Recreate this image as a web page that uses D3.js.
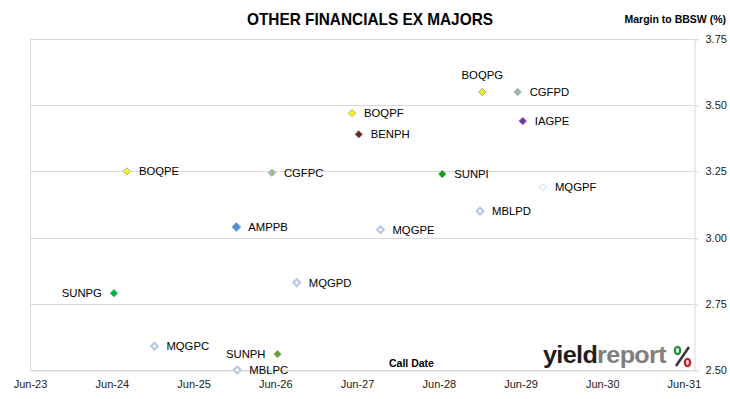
<!DOCTYPE html>
<html>
<head>
<meta charset="utf-8">
<script src="https://cdn.jsdelivr.net/npm/d3@7"></script>
<style>
  html, body { margin: 0; padding: 0; background: #fff; }
  svg { display: block; font-family: "Liberation Sans", Arial, sans-serif; }
</style>
</head>
<body>
<svg id="chart" width="730" height="399"></svg>
<script>
// ---- data ----
const securities = ["BOQPG","CGFPD","BOQPF","BENPH","IAGPE","SUNPI","MQGPF","MBLPD","MQGPE",
                    "BOQPE","CGFPC","AMPPB","SUNPG","MQGPD","MQGPC","SUNPH","MBLPC"];
const callDates  = ["2028-12-12","2029-05-19","2027-05-10","2027-06-09","2029-06-11","2028-06-16",
                    "2029-09-09","2028-12-02","2027-09-14","2024-08-07","2026-05-17","2025-12-09",
                    "2024-06-10","2026-09-05","2024-12-08","2026-06-11","2025-12-13"];
const margins    = [3.55, 3.55, 3.47, 3.39, 3.44, 3.24, 3.19, 3.10, 3.03,
                    3.25, 3.245, 3.04, 2.79, 2.83, 2.59, 2.56, 2.50];
const yTickValues = [2.50, 2.75, 3.00, 3.25, 3.50, 3.75];
const xTickYears  = [2023, 2024, 2025, 2026, 2027, 2028, 2029, 2030, 2031];

// ---- styles (kept separate from data) ----
const hollow = {fill: "#ffffff", stroke: "#b4c7e7", sw: 2, size: 30};
const styles = {
  BOQPG: {fill: "#f2ea1a", stroke: "#a6a6a6", sw: 1, size: 34},
  BOQPF: {fill: "#ffff00", stroke: "#a6a6a6", sw: 1, size: 34},
  BOQPE: {fill: "#ffff00", stroke: "#a6a6a6", sw: 1, size: 34},
  CGFPD: {fill: "#aab98a", stroke: "#8faadc", sw: 1, size: 34},
  CGFPC: {fill: "#aab98a", stroke: "#8faadc", sw: 1, size: 34},
  BENPH: {fill: "#652424", stroke: "#9a6a6a", sw: 1, size: 34},
  IAGPE: {fill: "#7030a0", stroke: "#9568bd", sw: 1, size: 34},
  SUNPI: {fill: "#12a012", stroke: "#3cb03c", sw: 1, size: 34},
  SUNPG: {fill: "#00b050", stroke: "#30bd70", sw: 1, size: 34},
  SUNPH: {fill: "#6a9e3c", stroke: "#86b25e", sw: 1, size: 34},
  AMPPB: {fill: "#558ed5", stroke: "#7aa6dc", sw: 1, size: 50},
  MQGPF: {fill: "#ffffff", stroke: "#c6d4ea", sw: 1, size: 34},
  MQGPE: hollow, MQGPD: hollow, MQGPC: hollow, MBLPD: hollow, MBLPC: hollow
};
const labelSide = {BOQPG: "top", SUNPG: "left", SUNPH: "left"};

// ---- layout ----
const svg = d3.select("#chart");
const plot = {left: 30, right: 694, top: 39, bottom: 370};
const parse = d3.timeParse("%Y-%m-%d");

const x = d3.scaleTime()
  .domain([new Date(2023, 5, 1), new Date(2031, 6, 16)])
  .range([plot.left, plot.right]);
const y = d3.scaleLinear()
  .domain([2.5, 3.75])
  .range([plot.bottom, plot.top]);

// gridlines
svg.append("g").selectAll("line").data(yTickValues).join("line")
  .attr("x1", plot.left).attr("x2", plot.right)
  .attr("y1", d => Math.round(y(d)) + 0.5).attr("y2", d => Math.round(y(d)) + 0.5)
  .attr("stroke", "#d9d9d9").attr("stroke-width", 1);

// left frame line
svg.append("line")
  .attr("x1", plot.left + 0.5).attr("x2", plot.left + 0.5)
  .attr("y1", plot.top).attr("y2", plot.bottom)
  .attr("stroke", "#d9d9d9");

// right y axis
const yAxis = svg.append("g")
  .attr("transform", `translate(${plot.right + 0.5},0)`)
  .call(d3.axisRight(y).tickValues(yTickValues).tickFormat(d3.format(".2f"))
        .tickSize(4).tickPadding(7));
yAxis.select(".domain").attr("stroke", "#d9d9d9");
yAxis.selectAll(".tick line").attr("stroke", "#d9d9d9")
  .attr("transform", d => `translate(0,${Math.round(y(d)) + 0.5 - y(d)})`);
yAxis.selectAll("text").attr("font-size", 11).attr("fill", "#222")
  .attr("font-family", "Liberation Sans, Arial, sans-serif");

// bottom x axis
const xAxis = svg.append("g")
  .attr("transform", `translate(0,${plot.bottom + 0.5})`)
  .call(d3.axisBottom(x).tickValues(xTickYears.map(yr => new Date(yr, 5, 1)))
        .tickFormat(d3.timeFormat("%b-%y")).tickSize(0).tickPadding(10));
xAxis.select(".domain").attr("stroke", "#d9d9d9");
xAxis.selectAll("text").attr("font-size", 11).attr("fill", "#222")
  .attr("font-family", "Liberation Sans, Arial, sans-serif");

// points
const pts = securities.map((s, i) => ({name: s, date: parse(callDates[i]), m: margins[i]}));
const diamond = d3.symbolDiamond2 || {
  draw(ctx, size) { const r = Math.sqrt(size) * 0.62625;
    ctx.moveTo(0, -r); ctx.lineTo(r, 0); ctx.lineTo(0, r); ctx.lineTo(-r, 0); ctx.closePath(); }
};
const gPts = svg.append("g");
gPts.selectAll("path").data(pts).join("path")
  .attr("transform", d => `translate(${x(d.date)},${y(d.m)})`)
  .attr("d", d => d3.symbol().type(diamond).size(styles[d.name].size)())
  .attr("fill", d => styles[d.name].fill)
  .attr("stroke", d => styles[d.name].stroke)
  .attr("stroke-width", d => styles[d.name].sw);

// point labels
gPts.selectAll("text").data(pts).join("text")
  .attr("x", d => {
    const side = labelSide[d.name];
    if (side === "left") return x(d.date) - 12;
    if (side === "top") return x(d.date);
    return x(d.date) + 12;
  })
  .attr("y", d => labelSide[d.name] === "top" ? y(d.m) - 17 : y(d.m))
  .attr("dy", "0.35em")
  .attr("text-anchor", d => {
    const side = labelSide[d.name];
    return side === "left" ? "end" : side === "top" ? "middle" : "start";
  })
  .attr("font-size", 11.3)
  .attr("fill", "#000")
  .text(d => d.name);

// title
svg.append("text")
  .attr("x", 370).attr("y", 25)
  .attr("text-anchor", "middle")
  .attr("font-size", 17).attr("font-weight", "bold").attr("fill", "#000")
  .attr("textLength", 246).attr("lengthAdjust", "spacingAndGlyphs")
  .text("OTHER FINANCIALS EX MAJORS");

// y axis title
svg.append("text")
  .attr("x", 726).attr("y", 23)
  .attr("text-anchor", "end")
  .attr("font-size", 10.5).attr("font-weight", "bold").attr("fill", "#000")
  .text("Margin to BBSW (%)");

// x axis title
svg.append("text")
  .attr("x", 389).attr("y", 366.5)
  .attr("font-size", 10.5).attr("font-weight", "bold").attr("fill", "#000")
  .text("Call Date");

// logo
const logo = svg.append("g");
const lt = logo.append("text")
  .attr("x", 543).attr("y", 363)
  .attr("font-size", 23).attr("font-weight", "bold")
  .attr("letter-spacing", -0.6)
  .attr("textLength", 123).attr("lengthAdjust", "spacingAndGlyphs");
lt.append("tspan").attr("fill", "#1e1e1e").text("yield");
lt.append("tspan").attr("fill", "#7f7f7f").text("report");
logo.append("line").attr("x1", 689).attr("y1", 347).attr("x2", 676).attr("y2", 366)
  .attr("stroke", "#3a3a3a").attr("stroke-width", 2.6);
logo.append("ellipse").attr("cx", 677.5).attr("cy", 350.5).attr("rx", 2.6).attr("ry", 3.6)
  .attr("fill", "none").attr("stroke", "#2e8a3e").attr("stroke-width", 2.4);
logo.append("ellipse").attr("cx", 687.5).attr("cy", 362.5).attr("rx", 2.6).attr("ry", 3.6)
  .attr("fill", "none").attr("stroke", "#c8202a").attr("stroke-width", 2.4);
</script>
</body>
</html>
